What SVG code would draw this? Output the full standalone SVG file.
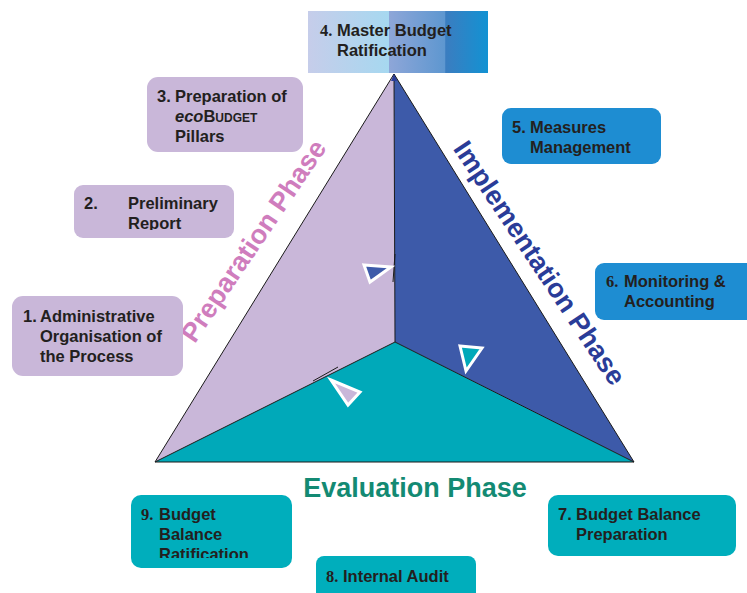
<svg xmlns="http://www.w3.org/2000/svg" width="747" height="593" viewBox="0 0 747 593">
<defs>
<style>
.bt{font-family:"Liberation Sans",Arial,sans-serif;font-weight:bold;font-size:16.5px;fill:#231F20}
.num{font-family:"Liberation Serif","Times New Roman",serif;font-weight:bold}
.lil{fill:#C9B7D9}
.blu{fill:#1E8DD2}
.tea{fill:#00AEBC}
.edge{stroke:#1a1a1a;stroke-width:1;fill:none}
.mk{stroke:#ffffff;stroke-width:3;stroke-linejoin:miter}
.ph{font-family:"Liberation Sans",Arial,sans-serif;font-weight:bold;font-size:27px;text-anchor:middle}
</style>
<linearGradient id="g4" x1="0" y1="0" x2="1" y2="0">
<stop offset="0" stop-color="#C6CDEA"/>
<stop offset="0.45" stop-color="#A6D8F0"/>
<stop offset="0.45" stop-color="#8EA6D8"/>
<stop offset="0.76" stop-color="#5E97D0"/>
<stop offset="0.765" stop-color="#3B7DC0"/>
<stop offset="1" stop-color="#1292D3"/>
</linearGradient>
<clipPath id="c2"><rect x="74" y="185" width="160" height="45"/></clipPath>
<clipPath id="c9"><rect x="131" y="495" width="161" height="63"/></clipPath>
</defs>

<g id="triangle">
<polygon points="394,74 395,342 155,462" fill="#C9B7D9"/>
<polygon points="394,74 634,462 395,342" fill="#3D5AA9"/>
<polygon points="395,342 634,462 155,462" fill="#00A9B9"/>
<polygon class="edge" points="394,74 634,462 155,462"/>
</g>

<g id="connectors">
<line class="edge" x1="394" y1="74" x2="395" y2="342"/>
<line class="edge" x1="395" y1="342" x2="155" y2="462"/>
<line class="edge" x1="395" y1="342" x2="634" y2="462"/>
<path d="M394,74 l-3,7 h6 z" fill="#2A3C98"/>
<line x1="395" y1="254" x2="393" y2="282" stroke="#1a1a1a" stroke-width="1"/>
<line x1="313" y1="381" x2="338" y2="367" stroke="#1a1a1a" stroke-width="1"/>
<polygon class="mk" points="364,265 391,267 370,282" fill="#3D5AA9"/>
<polygon class="mk" points="460,346 482,348 466,371" fill="#00A9B9"/>
<polygon class="mk" points="331,380 360,392 348,405" fill="#C9B7D9"/>
</g>

<g id="phase-preparation">
<text class="ph" fill="#CF7DBD" transform="translate(261,246) rotate(-56)">Preparation Phase</text>
</g>
<g id="phase-implementation">
<text class="ph" fill="#2A3C98" transform="translate(532,268) rotate(56.3)">Implementation Phase</text>
</g>
<g id="phase-evaluation">
<text class="ph" fill="#138A73" x="415" y="497">Evaluation Phase</text>
</g>

<g id="n4">
<rect x="308" y="11" width="180" height="62" fill="url(#g4)"/>
<text class="bt"><tspan class="num" x="320" y="36">4.</tspan><tspan x="337" y="36">Master Budget</tspan><tspan x="337" y="56">Ratification</tspan></text>
</g>

<g id="n3">
<rect class="lil" x="147" y="77" width="156" height="75" rx="11"/>
<text class="bt"><tspan x="157" y="102">3.</tspan><tspan x="175" y="102">Preparation of</tspan><tspan x="175" y="122" font-style="italic">eco</tspan><tspan>B</tspan><tspan font-size="12">UDGET</tspan><tspan x="175" y="142">Pillars</tspan></text>
</g>

<g id="n2">
<rect class="lil" x="74" y="185" width="160" height="53" rx="9"/>
<text class="bt" clip-path="url(#c2)"><tspan x="84" y="209">2.</tspan><tspan x="128" y="209">Preliminary</tspan><tspan x="128" y="229">Report</tspan></text>
</g>

<g id="n1">
<rect class="lil" x="12" y="296" width="171" height="80" rx="11"/>
<text class="bt" font-size="17.5"><tspan x="23" y="322">1.</tspan><tspan x="40" y="322">Administrative</tspan><tspan x="40" y="342">Organisation of</tspan><tspan x="40" y="362">the Process</tspan></text>
</g>

<g id="n5">
<rect class="blu" x="502" y="108" width="159" height="56" rx="9"/>
<text class="bt"><tspan x="512" y="133">5.</tspan><tspan x="530" y="133">Measures</tspan><tspan x="530" y="153">Management</tspan></text>
</g>

<g id="n6">
<rect class="blu" x="595" y="263" width="160" height="57" rx="9"/>
<text class="bt"><tspan class="num" x="606" y="287">6.</tspan><tspan x="624" y="287">Monitoring &amp;</tspan><tspan x="624" y="307">Accounting</tspan></text>
</g>

<g id="n7">
<rect class="tea" x="548" y="495" width="188" height="61" rx="10"/>
<text class="bt"><tspan x="558" y="520">7.</tspan><tspan x="576" y="520">Budget Balance</tspan><tspan x="576" y="540">Preparation</tspan></text>
</g>

<g id="n8">
<rect class="tea" x="316" y="556" width="160" height="50" rx="8"/>
<text class="bt"><tspan class="num" x="326" y="582">8.</tspan><tspan x="343" y="582">Internal Audit</tspan></text>
</g>

<g id="n9">
<rect class="tea" x="131" y="495" width="161" height="73" rx="10"/>
<text class="bt" clip-path="url(#c9)"><tspan class="num" x="141" y="520">9.</tspan><tspan x="159" y="520">Budget</tspan><tspan x="159" y="540">Balance</tspan><tspan x="159" y="560">Ratification</tspan></text>
</g>
</svg>
